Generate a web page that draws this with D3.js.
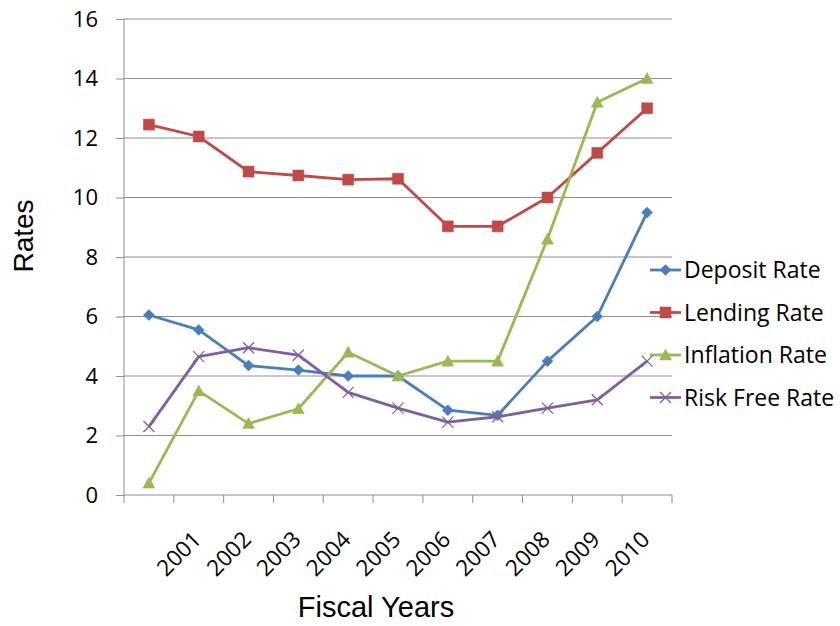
<!DOCTYPE html>
<html>
<head>
<meta charset="utf-8">
<script src="https://cdn.jsdelivr.net/npm/d3@7"></script>
<style>
  html, body { margin: 0; padding: 0; background: #ffffff; }
  svg { display: block; }
</style>
</head>
<body>
<svg id="chart" width="840" height="626"></svg>
<script>
// Fiscal year categories (first slot carries no label)
const categories = ["", "2001", "2002", "2003", "2004", "2005", "2006", "2007", "2008", "2009", "2010"];

// Rate series, in percent
const depositRate   = [6.05, 5.55, 4.35, 4.2, 4.0, 4.0, 2.85, 2.68, 4.5, 6.0, 9.5];
const lendingRate   = [12.45, 12.05, 10.87, 10.74, 10.6, 10.63, 9.03, 9.03, 10.0, 11.5, 13.0];
const inflationRate = [0.4, 3.5, 2.4, 2.9, 4.8, 4.0, 4.5, 4.5, 8.6, 13.2, 14.0];
const riskFreeRate  = [2.3, 4.65, 4.95, 4.7, 3.45, 2.92, 2.45, 2.63, 2.92, 3.2, 4.5];

const yTicks = [0, 2, 4, 6, 8, 10, 12, 14, 16];

const series = [
  { name: "Deposit Rate",   values: depositRate,   color: "#4A7EBB", marker: "diamond" },
  { name: "Lending Rate",   values: lendingRate,   color: "#BE4B48", marker: "square" },
  { name: "Inflation Rate", values: inflationRate, color: "#98B954", marker: "triangle" },
  { name: "Risk Free Rate", values: riskFreeRate,  color: "#7D60A0", marker: "cross" }
];

const svg = d3.select("#chart");
const plot = { left: 124, right: 672, top: 19, bottom: 495 };

const x = d3.scaleBand().domain(categories).range([plot.left, plot.right]);
const y = d3.scaleLinear().domain([0, 16]).range([plot.bottom, plot.top]);

const gridColor = "#8E8E8E";
const labelFont = "'Open Sans', 'Noto Sans', sans-serif";

// Horizontal gridlines
svg.append("g")
  .selectAll("line")
  .data(yTicks.filter(d => d > 0))
  .join("line")
  .attr("x1", plot.left).attr("x2", plot.right)
  .attr("y1", d => y(d)).attr("y2", d => y(d))
  .attr("stroke", gridColor).attr("stroke-width", 1);

// Y axis with outward ticks
const yAxis = svg.append("g")
  .attr("transform", `translate(${plot.left},0)`)
  .call(d3.axisLeft(y).tickValues(yTicks).tickSize(8).tickPadding(18));
yAxis.select(".domain").attr("stroke", gridColor).attr("d", `M0,${plot.top}V${plot.bottom}`);
yAxis.selectAll(".tick line").attr("stroke", gridColor);
yAxis.selectAll(".tick text")
  .attr("fill", "#000").attr("font-family", labelFont).attr("font-size", 22);

// X axis line and boundary tick marks between categories
const boundaries = categories.map(c => x(c)).concat([plot.right]);
svg.append("line")
  .attr("x1", plot.left).attr("x2", plot.right)
  .attr("y1", plot.bottom).attr("y2", plot.bottom)
  .attr("stroke", gridColor);
svg.append("g")
  .selectAll("line")
  .data(boundaries)
  .join("line")
  .attr("x1", d => d).attr("x2", d => d)
  .attr("y1", plot.bottom).attr("y2", plot.bottom + 8)
  .attr("stroke", gridColor);

// Rotated category labels
svg.append("g")
  .selectAll("text")
  .data(categories)
  .join("text")
  .attr("transform", d => `translate(${x(d) + x.bandwidth() / 2 + 4},${plot.bottom + 46}) rotate(-45)`)
  .attr("text-anchor", "end")
  .attr("font-family", labelFont)
  .attr("font-size", 22.5)
  .attr("fill", "#000")
  .text(d => d);

// Marker shapes
function markerPath(type) {
  switch (type) {
    case "diamond":  return "M0,-5.5L5.5,0L0,5.5L-5.5,0Z";
    case "square":   return "M-5.5,-5.5H5.5V5.5H-5.5Z";
    case "triangle": return "M0,-6L6,5H-6Z";
    case "cross":    return "M-5.5,-5.5L5.5,5.5M5.5,-5.5L-5.5,5.5";
  }
}
function drawMarker(g, s) {
  const p = g.append("path").attr("d", markerPath(s.marker));
  if (s.marker === "cross") {
    p.attr("fill", "none").attr("stroke", s.color).attr("stroke-width", 1.3);
  } else {
    p.attr("fill", s.color).attr("stroke", s.color).attr("stroke-width", 0.5);
  }
}

const line = d3.line()
  .x((d, i) => x(categories[i]) + x.bandwidth() / 2)
  .y(d => y(d));

series.forEach(s => {
  svg.append("path")
    .datum(s.values)
    .attr("d", line)
    .attr("fill", "none")
    .attr("stroke", s.color)
    .attr("stroke-width", 2.8)
    .attr("stroke-linejoin", "round");
  svg.append("g")
    .selectAll("g")
    .data(s.values)
    .join("g")
    .attr("transform", (d, i) => `translate(${x(categories[i]) + x.bandwidth() / 2},${y(d)})`)
    .each(function () { drawMarker(d3.select(this), s); });
});

// Legend
const legendRows = [270, 312.5, 355, 397.5];
series.forEach((s, i) => {
  const g = svg.append("g").attr("transform", `translate(650,${legendRows[i]})`);
  g.append("line").attr("x1", 0).attr("x2", 31).attr("y1", 0).attr("y2", 0)
    .attr("stroke", s.color).attr("stroke-width", 2.8);
  const m = g.append("g").attr("transform", "translate(15.5,0)");
  drawMarker(m, s);
  g.append("text")
    .attr("x", 34).attr("y", 0).attr("dy", "0.36em")
    .attr("font-family", labelFont).attr("font-size", 23).attr("fill", "#000")
    .text(s.name);
});

// Axis titles
svg.append("text")
  .attr("transform", "translate(33,236) rotate(-90)")
  .attr("text-anchor", "middle")
  .attr("font-family", "'Liberation Sans', Arial, sans-serif")
  .attr("font-size", 28)
  .attr("fill", "#000")
  .text("Rates");

svg.append("text")
  .attr("x", 376).attr("y", 617)
  .attr("text-anchor", "middle")
  .attr("font-family", "'Liberation Sans', Arial, sans-serif")
  .attr("font-size", 29)
  .attr("fill", "#000")
  .text("Fiscal Years");
</script>
</body>
</html>
